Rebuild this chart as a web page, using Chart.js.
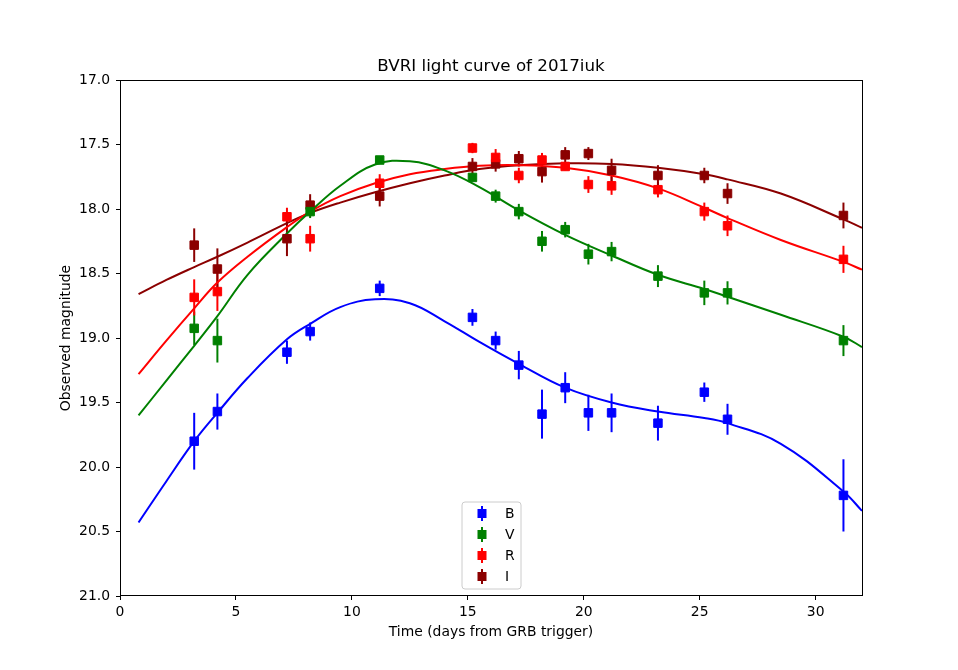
<!DOCTYPE html>
<html><head><meta charset="utf-8">
<script src="https://cdn.jsdelivr.net/npm/chart.js@4/dist/chart.umd.min.js"></script>
<style>html,body{margin:0;padding:0;background:#fff}</style>
</head><body>
<canvas id="c" width="958" height="670"></canvas>
<script>
// ---- data ----
const titleText = 'BVRI light curve of 2017iuk';
const xTicks = [0, 5, 10, 15, 20, 25, 30];
const yTicks = [17.0, 17.5, 18.0, 18.5, 19.0, 19.5, 20.0, 20.5, 21.0];
const bandNames = ['B', 'V', 'R', 'I'];

const tAll = [3.2, 4.2, 7.2, 8.2, 11.2, 15.2, 16.2, 17.2, 18.2, 19.2, 20.2, 21.2, 23.2, 25.2, 26.2, 31.2];
const tV   = [3.2, 4.2, 8.2, 11.2, 15.2, 16.2, 17.2, 18.2, 19.2, 20.2, 21.2, 23.2, 25.2, 26.2, 31.2];

const magB = [19.80, 19.57, 19.11, 18.95, 18.615, 18.84, 19.02, 19.21, 19.59, 19.385, 19.58, 19.58, 19.66, 19.42, 19.63, 20.22];
const errB = [0.22, 0.14, 0.09, 0.07, 0.06, 0.065, 0.07, 0.11, 0.19, 0.12, 0.14, 0.15, 0.135, 0.075, 0.12, 0.28];
const magV = [18.925, 19.02, 18.02, 17.62, 17.755, 17.90, 18.02, 18.25, 18.16, 18.35, 18.33, 18.52, 18.65, 18.65, 19.02];
const errV = [0.13, 0.17, 0.05, 0.03, 0.03, 0.05, 0.06, 0.08, 0.06, 0.08, 0.075, 0.085, 0.095, 0.09, 0.12];
const magR = [18.685, 18.64, 18.06, 18.23, 17.80, 17.527, 17.60, 17.74, 17.62, 17.67, 17.81, 17.82, 17.85, 18.02, 18.13, 18.39];
const errR = [0.14, 0.15, 0.07, 0.10, 0.07, 0.04, 0.065, 0.06, 0.055, 0.03, 0.065, 0.07, 0.06, 0.07, 0.08, 0.105];
const magI = [18.28, 18.465, 18.23, 17.97, 17.90, 17.67, 17.65, 17.61, 17.71, 17.58, 17.57, 17.70, 17.74, 17.74, 17.88, 18.05];
const errI = [0.13, 0.16, 0.135, 0.085, 0.08, 0.065, 0.06, 0.06, 0.085, 0.06, 0.05, 0.09, 0.08, 0.06, 0.08, 0.10];

// fitted curves
const tCurve = [0.8, 2, 3.2, 4.2, 5.5, 7.2, 8.2, 9.5, 11, 12.5, 14, 15.5, 17.2, 19.2, 21.2, 23.2, 25.2, 26.2, 28.5, 31.2, 32];
const fitB = [20.43, 20.11, 19.80, 19.58, 19.31, 19.01, 18.89, 18.76, 18.70, 18.73, 18.87, 19.03, 19.20, 19.385, 19.50, 19.57, 19.62, 19.66, 19.82, 20.19, 20.34];
const fitV = [19.60, 19.33, 19.06, 18.83, 18.51, 18.19, 18.02, 17.82, 17.655, 17.63, 17.70, 17.83, 18.01, 18.20, 18.36, 18.51, 18.62, 18.68, 18.82, 18.99, 19.07];
const fitR = [19.28, 19.02, 18.77, 18.57, 18.37, 18.14, 18.02, 17.90, 17.80, 17.73, 17.69, 17.665, 17.66, 17.68, 17.74, 17.84, 17.99, 18.07, 18.24, 18.41, 18.47];
const fitI = [18.66, 18.55, 18.45, 18.37, 18.26, 18.11, 18.03, 17.95, 17.87, 17.80, 17.74, 17.69, 17.66, 17.645, 17.65, 17.68, 17.73, 17.77, 17.88, 18.08, 18.145];

const colB = '#0000ff', colV = '#008000', colR = '#ff0000', colI = '#8b0000';
const FONT = "'DejaVu Sans', sans-serif";

const pts = (xs, ys) => xs.map((x, i) => ({x: x, y: ys[i]}));

function pointSet(label, xs, ys, errs, col) {
  return {
    type: 'scatter', label: label, data: pts(xs, ys), errs: errs,
    backgroundColor: col, borderColor: col, pointStyle: 'rect',
    pointRadius: 6, pointBorderWidth: 1, showLine: false, order: 1
  };
}
function curveSet(ys, col) {
  return {
    type: 'line', label: '', data: pts(tCurve, ys), isCurve: true,
    borderColor: col, backgroundColor: col, borderWidth: 2, pointRadius: 0,
    fill: false, cubicInterpolationMode: 'default', tension: 0.4, order: 2
  };
}

const errorBars = {
  id: 'errorBars',
  beforeDatasetsDraw(chart) {
    const ctx = chart.ctx, ys = chart.scales.y;
    chart.data.datasets.forEach((ds, i) => {
      if (!ds.errs) return;
      const meta = chart.getDatasetMeta(i);
      ctx.save();
      ctx.strokeStyle = ds.borderColor; ctx.lineWidth = 2;
      meta.data.forEach((el, j) => {
        const v = ds.data[j].y, e = ds.errs[j];
        ctx.beginPath();
        ctx.moveTo(el.x, ys.getPixelForValue(v - e));
        ctx.lineTo(el.x, ys.getPixelForValue(v + e));
        ctx.stroke();
      });
      ctx.restore();
    });
  }
};

const frameAndLegend = {
  id: 'frameAndLegend',
  afterDatasetsDraw(chart) {
    const ctx = chart.ctx, a = chart.chartArea;
    ctx.save();
    ctx.strokeStyle = '#000'; ctx.lineWidth = 1;
    ctx.strokeRect(Math.round(a.left) + 0.5, Math.round(a.top) + 0.5, Math.round(a.right - a.left), Math.round(a.bottom - a.top) - 1);
    // legend
    const lx = 462, ly = 502, lw = 59, lh = 87, r = 3;
    ctx.beginPath();
    ctx.moveTo(lx + r, ly); ctx.lineTo(lx + lw - r, ly); ctx.arcTo(lx + lw, ly, lx + lw, ly + r, r);
    ctx.lineTo(lx + lw, ly + lh - r); ctx.arcTo(lx + lw, ly + lh, lx + lw - r, ly + lh, r);
    ctx.lineTo(lx + r, ly + lh); ctx.arcTo(lx, ly + lh, lx, ly + lh - r, r);
    ctx.lineTo(lx, ly + r); ctx.arcTo(lx, ly, lx + r, ly, r);
    ctx.closePath();
    ctx.fillStyle = 'rgba(255,255,255,0.8)'; ctx.fill();
    ctx.strokeStyle = '#cccccc'; ctx.lineWidth = 1; ctx.stroke();
    const cols = [colB, colV, colR, colI];
    ctx.font = '13.9px ' + FONT; ctx.textBaseline = 'middle'; ctx.textAlign = 'left';
    bandNames.forEach((n, k) => {
      const y = 513.5 + k * 21, x = 482;
      ctx.strokeStyle = cols[k]; ctx.lineWidth = 2;
      ctx.beginPath(); ctx.moveTo(x, y - 7.5); ctx.lineTo(x, y + 7.5); ctx.stroke();
      ctx.fillStyle = cols[k]; ctx.fillRect(x - 4.5, y - 4.5, 9, 9);
      ctx.fillStyle = '#000'; ctx.fillText(n, 505, y + 1);
    });
    ctx.restore();
  }
};

new Chart(document.getElementById('c'), {
  type: 'scatter',
  data: {
    datasets: [
      curveSet(fitB, colB), curveSet(fitV, colV), curveSet(fitR, colR), curveSet(fitI, colI),
      pointSet('B', tAll, magB, errB, colB),
      pointSet('V', tV, magV, errV, colV),
      pointSet('R', tAll, magR, errR, colR),
      pointSet('I', tAll, magI, errI, colI)
    ]
  },
  options: {
    responsive: false, animation: false, events: [],
    layout: {padding: {left: 0, right: 96, top: 0, bottom: 0}},
    plugins: {
      legend: {display: false}, tooltip: {enabled: false},
      title: {display: true, text: titleText, color: '#000', fullSize: false,
        font: {family: FONT, size: 16.7, weight: 'normal', lineHeight: 1.2},
        padding: {top: 57, bottom: 3}}
    },
    scales: {
      x: {
        type: 'linear', min: 0, max: 32,
        afterBuildTicks: s => { s.ticks = xTicks.map(v => ({value: v})); },
        afterFit: s => { s.height = 74; },
        grid: {display: true, drawOnChartArea: false, drawTicks: true, tickLength: 4, color: '#000', lineWidth: 1},
        border: {display: false},
        ticks: {color: '#000', padding: 4, maxRotation: 0, font: {family: FONT, size: 13.9}, callback: v => String(v)},
        title: {display: true, text: 'Time (days from GRB trigger)', color: '#000',
          font: {family: FONT, size: 13.9}, padding: {top: 0, bottom: 29.5}}
      },
      y: {
        type: 'linear', min: 17, max: 21, reverse: true,
        afterBuildTicks: s => { s.ticks = yTicks.map(v => ({value: v})); },
        afterFit: s => { s.width = 120; },
        grid: {display: true, drawOnChartArea: false, drawTicks: true, tickLength: 4, color: '#000', lineWidth: 1},
        border: {display: false},
        ticks: {color: '#000', padding: 6, font: {family: FONT, size: 13.9}, callback: v => Number(v).toFixed(1)},
        title: {display: true, text: 'Observed magnitude', color: '#000',
          font: {family: FONT, size: 13.9}, padding: {top: 57.6, bottom: 0}}
      }
    }
  },
  plugins: [errorBars, frameAndLegend]
});
</script>
</body></html>
